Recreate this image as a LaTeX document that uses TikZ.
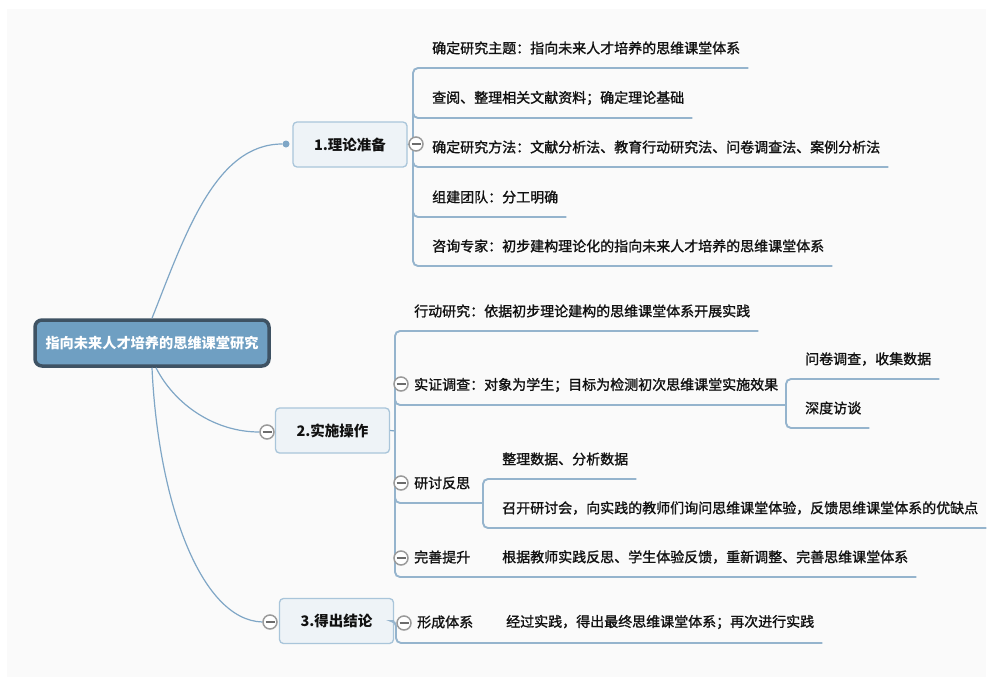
\documentclass[tikz,border=0pt]{standalone}
\usepackage{fontspec}
\setmainfont{Noto Sans CJK SC}
\newfontfamily\leaffont{Noto Sans CJK SC}[FakeBold=1.3]
\usetikzlibrary{calc}
\definecolor{bgc}{HTML}{FAFAFA}
\definecolor{linec}{HTML}{7FA6C6}
\definecolor{ulc}{HTML}{95B4CD}
\definecolor{rootfill}{HTML}{6F9FC2}
\definecolor{rootdraw}{HTML}{3E5263}
\definecolor{brfill}{HTML}{EEF3F7}
\definecolor{brdraw}{HTML}{A9C5DA}
\definecolor{txt}{HTML}{111111}
\definecolor{cgray}{HTML}{9A9A9A}
\begin{document}
\begin{tikzpicture}[x=1pt,y=-1pt,
  rootbox/.style={draw=rootdraw, line width=3.5pt, fill=rootfill, rounded corners=7pt,
    minimum width=234pt, minimum height=46pt, inner sep=0pt, text=white,
    font=\fontsize{14.2}{16}\selectfont\bfseries},
  brbox/.style={draw=brdraw, line width=1.3pt, fill=brfill, rounded corners=4pt,
    minimum width=114pt, minimum height=45pt, inner sep=0pt, text=txt,
    font=\fontsize{14.5}{16}\selectfont\bfseries},
  leaf/.style={anchor=west, inner sep=0pt, text=txt, font=\fontsize{14}{16}\leaffont},
  conn/.style={draw=linec, line width=1.2pt},
  uline/.style={draw=ulc, line width=1.9pt, rounded corners=5pt},
  dotnode/.style={circle, fill=linec, minimum size=7pt, inner sep=0pt},
  fold/.style={circle, draw=cgray, line width=1.5pt, fill=white, minimum size=14pt, inner sep=0pt,
    path picture={\draw[cgray!70!black, line width=1.1pt]
      ([xshift=-4.5pt]path picture bounding box.center) -- ([xshift=4.5pt]path picture bounding box.center);}},
]
\useasboundingbox (0,0) rectangle (993,680);
\fill[bgc] (7,9) rectangle (986,677);

% root and main branches
\node[rootbox] (root) at (152,343) {指向未来人才培养的思维课堂研究};
\node[brbox] (b1) at (350,144.5) {1.理论准备};
\node[brbox] (b2) at (332.5,430.5) {2.实施操作};
\node[brbox] (b3) at (336.5,621) {3.得出结论};
\node[dotnode] (d1) at (286,144) {};
\node[fold] (f2) at (267,432) {};
\node[fold] (f3) at (270,622) {};

\draw[conn] (root.north) .. controls (185,235) and (215,144) .. (d1.west);
\draw[conn] ([xshift=4pt]root.south) .. controls (175,405) and (215,432) .. (f2.west);
\draw[conn] (root.south) .. controls (158,500) and (200,620) .. (f3.west);

% branch 1 leaves
\node[leaf] (a1) at (432,48) {确定研究主题：指向未来人才培养的思维课堂体系};
\node[leaf] (a2) at (432,98) {查阅、整理相关文献资料；确定理论基础};
\node[leaf] (a3) at (432,147) {确定研究方法：文献分析法、教育行动研究法、问卷调查法、案例分析法};
\node[leaf] (a4) at (432,197) {组建团队：分工明确};
\node[leaf] (a5) at (432,246) {咨询专家：初步建构理论化的指向未来人才培养的思维课堂体系};
\draw[conn] (b1.east) -- (413,144);
\draw[uline] ($(a1.east)+(8,20)$) -- (413,68) -- (413,266) -- ($(a5.east)+(8,20)$);
\draw[uline] (413,108) -- (413,118) -- ($(a2.east)+(8,20)$);
\draw[uline] (413,157) -- (413,167) -- ($(a3.east)+(8,20)$);
\draw[uline] (413,207) -- (413,217) -- ($(a4.east)+(8,20)$);
\node[fold] (f1) at (416,144) {};

% branch 2 leaves
\node[leaf] (c1) at (414,311) {行动研究：依据初步理论建构的思维课堂体系开展实践};
\node[leaf] (c2) at (414,385) {实证调查：对象为学生；目标为检测初次思维课堂实施效果};
\node[leaf] (s1) at (805,359) {问卷调查，收集数据};
\node[leaf] (s2) at (805,408) {深度访谈};
\node[leaf] (c3) at (414,483) {研讨反思};
\node[leaf] (s3) at (502,459) {整理数据、分析数据};
\node[leaf] (s4) at (502,508) {召开研讨会，向实践的教师们询问思维课堂体验，反馈思维课堂体系的优缺点};
\node[leaf] (c4) at (414,557) {完善提升};
\node[leaf] (s5) at (502,557) {根据教师实践反思、学生体验反馈，重新调整、完善思维课堂体系};
\draw[conn] (b2.east) -- (395,431);
\draw[uline] ($(c1.east)+(8,20)$) -- (395,331) -- (395,577) -- ($(s5.east)+(8,20)$);
\draw[uline] (395,395) -- (395,405) -- (786,405);
\draw[uline] ($(s1.east)+(8,20)$) -- (786,379) -- (786,428) -- ($(s2.east)+(8,20)$);
\draw[uline] (395,493) -- (395,503) -- (483,503);
\draw[uline] ($(s3.east)+(8,20)$) -- (483,479) -- (483,528) -- ($(s4.east)+(8,20)$);
\node[fold] (g2) at (401,384) {};
\node[fold] (g3) at (401,483) {};
\node[fold] (g4) at (401,558) {};

% branch 3 leaves
\node[leaf] (e1) at (417,622) {形成体系};
\node[leaf] (s6) at (506,622) {经过实践，得出最终思维课堂体系；再次进行实践};
\draw[uline] (b3.east) -- (396,621) -- (396,643) -- ($(s6.east)+(8,21)$);
\node[fold] (h1) at (404,623) {};
\end{tikzpicture}
\end{document}
